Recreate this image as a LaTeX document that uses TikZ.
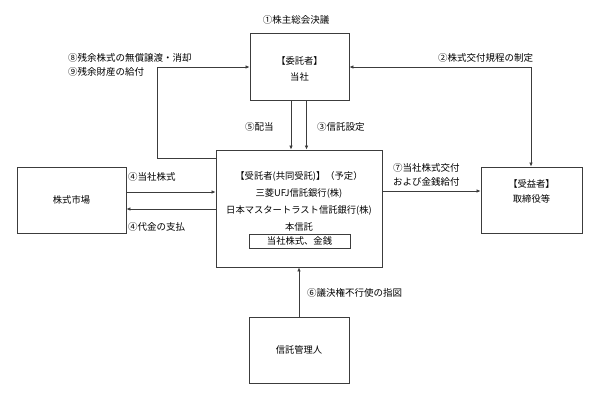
\documentclass[tikz,border=0pt]{standalone}
\usepackage{fontspec}
\setmainfont{Noto Sans CJK JP}
\usetikzlibrary{arrows.meta}
\definecolor{linec}{HTML}{3C3C3C}
\begin{document}
\begin{tikzpicture}[x=1pt,y=-1pt,
  box/.style={draw=linec, line width=0.9pt, fill=white, inner sep=0pt},
  lab/.style={font=\fontsize{9.5}{14}\selectfont, inner sep=0pt, anchor=west, align=left},
  txt/.style={font=\fontsize{9.3}{#1}\selectfont, align=center, inner sep=0pt},
  txt/.default=15,
  conn/.style={draw=linec, line width=0.9pt},
  arr/.style={conn, -{Latex[length=4pt,width=3.6pt]}},
  darr/.style={conn, {Latex[length=4pt,width=3.6pt]}-{Latex[length=4pt,width=3.6pt]}},
]
\useasboundingbox[fill=white] (0,0) rectangle (598,400);

% boxes
\node[box, minimum width=99pt, minimum height=67pt] (top) at (299.5,66.5) {};
\node[txt=16] (toptxt) at (299.5,69) {【委託者】\\当社};

\node[box, minimum width=166pt, minimum height=117pt] (trust) at (299,208.5) {};
\node[txt=17] (trusttxt) at (299,201) {【受託者(共同受託)】（予定）\\三菱UFJ信託銀行(株)\\日本マスタートラスト信託銀行(株)\\本信託};
\node[box, minimum width=101pt, minimum height=14pt, font=\fontsize{9.3}{11}\selectfont] (asset) at (299.5,241) {当社株式、金銭};

\node[box, minimum width=109pt, minimum height=66pt] (market) at (71.5,200) {};
\node[txt] (markettxt) at (market) {株式市場};

\node[box, minimum width=101pt, minimum height=66pt] (benef) at (531.5,200) {};
\node[txt=15] (beneftxt) at (531.5,191) {【受益者】\\取締役等};

\node[box, minimum width=100pt, minimum height=66pt] (admin) at (299,350) {};
\node[txt] (admintxt) at (admin) {信託管理人};

% bend coordinates
\coordinate (b8a) at (157,158);
\coordinate (b8b) at (157,67);
\coordinate (b2) at (531,67);

% connectors
\draw[arr] (trust.west |- b8a) -- (b8a) -- (b8b) -- (top.west |- b8b);
\draw[arr] (top.south -| 291,0) -- (trust.north -| 291,0);
\draw[arr] (top.south -| 306.5,0) -- (trust.north -| 306.5,0);
\draw[darr] (top.east |- b2) -- (b2) -- (benef.north -| b2);
\draw[arr] (market.east |- 0,192) -- (trust.west |- 0,192);
\draw[arr] (trust.west |- 0,209) -- (market.east |- 0,209);
\draw[arr] (trust.east |- 0,191) -- (benef.west |- 0,191);
\draw[arr] (admin.north) -- (trust.south);

% labels
\node[lab, anchor=center] (l1) at (296,20) {①株主総会決議};
\node[lab] (l8) at (68,65) {⑧残余株式の無償譲渡・消却\\⑨残余財産の給付};
\node[lab] (l5) at (245,127) {⑤配当};
\node[lab] (l3) at (317,127) {③信託設定};
\node[lab] (l2) at (438,58) {②株式交付規程の制定};
\node[lab] (l4a) at (128,177) {④当社株式};
\node[lab] (l4b) at (128,227) {④代金の支払};
\node[lab] (l7) at (393,174.5) {⑦当社株式交付\\および金銭給付};
\node[lab] (l6) at (307,293) {⑥議決権不行使の指図};
\end{tikzpicture}
\end{document}
